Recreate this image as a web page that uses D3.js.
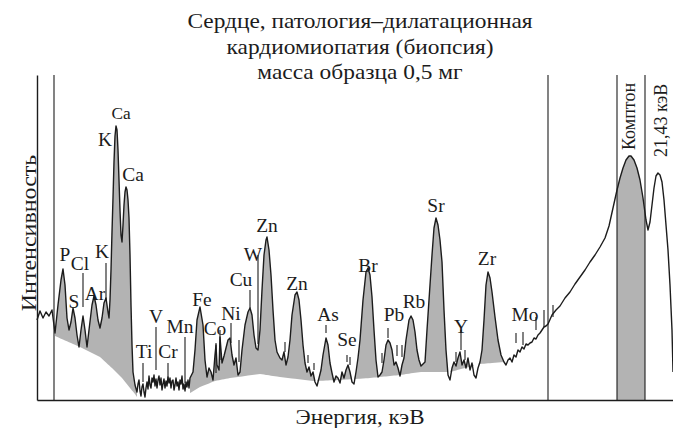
<!DOCTYPE html>
<html><head><meta charset="utf-8">
<script src="https://cdn.jsdelivr.net/npm/d3@7"></script>
<style>html,body{margin:0;padding:0;background:#fff;} svg{display:block;} text{font-family:"Liberation Serif","Times New Roman",serif;}</style>
</head><body><svg id="c" width="673" height="428"></svg>
<script>
// ---------- data ----------
const titleLines = ["Сердце, патология–дилатационная", "кардиомиопатия (биопсия)", "масса образца 0,5 мг"];
const xLabel = "Энергия, кэВ";
const yLabel = "Интенсивность";

// spectrum: [channel, counts]
const spectrum = [
[0,80],[3,89],[6,82],[9,88],[12,84],[15,90],[18,67],[21,95],[24,120],[26,131],[28,115],[30,82],[32,70],[34,78],[36,92],[38,82],[40,65],[42,53],[44,70],[46,84],[48,70],[50,53],[52,70],[55,95],[57,104],[59,95],[61,80],[63,72],[65,82],[67,97],[69,102],
[71,88],[72,82],[73,100],[74,130],[75,168],[76,202],[77,238],[78,264],[79,274],[80,270],[81,250],[82,220],[83,190],[84,165],[85,158],[86,175],[87,195],[88,208],[89,213],[90,210],[91,200],[92,182],[93,145],[94,95],[95,55],[96,28],[98,15],[100,8],
[101,16],[102,20],[103,9],[104,4],[105,13],[106,16],[107,8],[108,3],[109,12],[110,18],[111,11],[112,24],[113,15],[114,12],[115,22],[116,18],[117,25],[118,14],[119,21],[120,12],[121,20],[122,24],[123,15],[124,22],[125,10],[126,16],[127,21],[128,12],[129,19],[130,14],[131,23],[132,17],[133,22],[134,12],[135,19],[136,20],[137,10],[138,15],[139,22],[140,14],[141,18],[142,10],[143,20],[144,16],[145,24],[146,11],[147,16],[148,9],[149,18],[150,13],[151,20],[152,12],[153,22],[154,24],[156,28],[158,50],[160,80],[163,93],[166,75],[168,40],[170,23],[172,32],[174,28],[176,20],[178,45],[179,55],[180,35],[182,30],[183,63],[185,37],[187,44],[189,52],[191,60],[193,62],[195,45],[197,35],[199,42],[201,25],[203,28],[205,50],[208,75],[211,88],[213,92],[215,85],[217,65],[219,52],[221,50],[223,70],[225,110],[227,145],[229,160],[230,163],[232,150],[234,125],[236,90],[238,60],[240,48],[243,42],[245,40],[247,48],[249,35],[251,43],[253,60],[255,85],[258,105],[260,108],[262,100],[264,80],[266,55],[268,37],[270,28],[272,33],[274,24],[276,28],[278,18],[280,14],[282,22],[284,30],[286,45],[289,62],[291,55],[293,37],[295,27],[297,18],[299,24],[301,22],[303,17],[305,28],[307,22],[309,30],[311,35],[313,28],[315,18],[317,16],[319,28],[321,42],[323,60],[326,100],[329,128],[331,132],[333,125],[335,103],[337,70],[339,40],[341,23],[343,25],[345,28],[347,40],[349,55],[351,60],[353,57],[355,50],[357,35],[359,38],[361,32],[363,24],[365,35],[367,42],[369,60],[372,80],[374,84],[376,80],[378,68],[380,50],[382,40],[384,34],[386,36],[388,38],[390,70],[392,100],[395,145],[397,172],[399,182],[401,175],[403,160],[405,138],[407,90],[409,50],[411,25],[413,20],[415,32],[417,38],[419,34],[421,42],[423,48],[425,35],[427,40],[429,32],[431,42],[433,30],[435,37],[437,25],[439,22],[441,32],[443,38],[445,50],[447,80],[449,115],[451,128],[453,122],[455,108],[458,83],[461,60],[464,45],[467,38],[469,35],[471,40],[473,42],[475,38],[477,45],[479,43],[481,50],[483,48],[485,53],[487,51],[489,56],[491,55],[493,57],[495,58],[497,62],[499,61],[501,65],[503,67],[505,70],[507,73],[509,74],[511,76],[515,85],[519,90],[523,94],[528,102],[533,108],[538,116],[543,123],[548,130],[553,138],[558,145],[563,153],[568,162],[572,174],[576,192],[580,210],[583,222],[586,232],[589,240],[592,244],[594,244],[597,240],[600,232],[603,220],[606,202],[609,180],[611,170],[613,178],[615,195],[617,212],[619,224],[621,227],[623,225],[625,218],[627,200],[629,175],[631,150],[633,115],[635,70],[636,28]
];

// lower edges of the shaded peak areas: [channel, counts]
const baselineA = [[18,64],[43,53],[63,43],[76,31],[85,22],[93,12],[98,6],[100,3]];
const baselineB = [[153,7],[163,13],[178,19],[193,22],[223,26],[243,23],[276,19],[303,20],[333,22],[363,25],[383,28],[413,28],[443,36],[468,38]];
const comptonBand = [580, 608];
const refLines = [17, 511, 580, 608];

// element marker ticks: [channel, top counts, bottom counts]
const markers = [
[46,127,93],[69,137,100],[106,37,18],[119,73,30],[131,37,18],[148,63,17],
[179,57,27],[183,70,40],[194,77,57],[202,60,38],[213,110,92],[221,145,56],
[248,58,48],[271,45,37],[277,37,30],[289,75,67],[310,45,38],[313,43,35],
[345,47,37],[351,72,62],[360,55,44],[365,55,43],[419,48,38],[424,70,50],[428,50,40],
[479,67,57],[486,68,55],[499,83,70],[507,90,73],[516,95,83]
];

const elements   = ["Ca","K","Ca","P","Cl","K","S","Ar","Ti","V","Cr","Mn","Fe","Co","Ni","Cu","W","Zn","Zn","As","Se","Br","Pb","Rb","Sr","Y","Zr","Mo"];
const elementCh  = [84,68,96,28,43,65,37,58,107,119,131,143,165,178,194,204,216,230,260,291,310,331,357,377,399,424,450,488];
const elementCnt = [281,254,219,139,130,142,92,100,42,77,42,67,94,65,80,114,139,168,110,79,54,128,79,92,188,67,135,79];

const bandLabels = ["Комптон", "21,43 кэВ"];
const bandLabelCh = [598, 630];
const bandLabelCnt = [250, 243];

// ---------- drawing ----------
const svg = d3.select("#c");
const INK = "#1c1c1c";
const GRAY = "#b3b3b3";

const x = d3.scaleLinear().domain([0, 636]).range([37, 673]);
const y = d3.scaleLinear().domain([0, 325]).range([400, 75]);

const curveAt = d3.scaleLinear().domain(spectrum.map(d => d[0])).range(spectrum.map(d => d[1]));

function fillPoints(lo, hi, baseFn) {
  const pts = [[lo, curveAt(lo)], ...spectrum.filter(d => d[0] > lo && d[0] < hi), [hi, curveAt(hi)]];
  return pts.map(d => { const b = baseFn(d[0]); return {c: d[0], y0: b, y1: Math.max(d[1], b)}; });
}
const area = d3.area().x(d => x(d.c)).y0(d => y(d.y0)).y1(d => y(d.y1));

[baselineA, baselineB].forEach(base => {
  const bs = d3.scaleLinear().domain(base.map(d => d[0])).range(base.map(d => d[1]));
  svg.append("path").datum(fillPoints(base[0][0], base[base.length - 1][0], bs))
    .attr("d", area).attr("fill", GRAY);
});
svg.append("path").datum(fillPoints(comptonBand[0], comptonBand[1], () => 0))
  .attr("d", area).attr("fill", GRAY);

// reference vertical lines
svg.selectAll("line.ref").data(refLines).join("line").attr("class", "ref")
  .attr("x1", d => x(d)).attr("x2", d => x(d)).attr("y1", y(0)).attr("y2", y(325))
  .attr("stroke", INK).attr("stroke-width", 1.1);

// marker ticks
svg.selectAll("line.mk").data(markers).join("line").attr("class", "mk")
  .attr("x1", d => x(d[0])).attr("x2", d => x(d[0])).attr("y1", d => y(d[1])).attr("y2", d => y(d[2]))
  .attr("stroke", INK).attr("stroke-width", 1.1);

// spectrum curve
svg.append("path").datum(spectrum)
  .attr("d", d3.line().x(d => x(d[0])).y(d => y(d[1])))
  .attr("fill", "none").attr("stroke", INK).attr("stroke-width", 1.4).attr("stroke-linejoin", "round");

// axes (no ticks)
const ax = svg.append("g").attr("transform", `translate(0,${y(0)})`)
  .call(d3.axisBottom(x).tickValues([]).tickSizeOuter(0));
const ay = svg.append("g").attr("transform", `translate(${x(0)},0)`)
  .call(d3.axisLeft(y).tickValues([]).tickSizeOuter(0));
[ax, ay].forEach(a => a.select(".domain").attr("stroke", INK).attr("stroke-width", 1.4));

// text helper
function txt(str, px, py, size, opts = {}) {
  const g = svg.append("g")
    .attr("transform", `translate(${px},${py}) rotate(${opts.rotate || 0}) scale(${opts.sx || 1},1)`);
  g.append("text").attr("text-anchor", opts.anchor || "middle")
    .style("font-family", '"Liberation Serif", "Times New Roman", serif')
    .attr("font-size", size).attr("fill", INK).text(str);
}

titleLines.forEach((t, i) => txt(t, 360, 28 + i * 25.5, 20, {sx: 1.17}));
txt(xLabel, 360, 424, 20, {sx: 1.15});
txt(yLabel, 36, 233, 20, {rotate: -90, sx: 1.2});

elements.forEach((e, i) => txt(e, x(elementCh[i]), y(elementCnt[i]), i === 0 ? 16 : 18, {sx: 1.08}));
bandLabels.forEach((t, i) => txt(t, x(bandLabelCh[i]), y(bandLabelCnt[i]), 18, {rotate: -90, anchor: "start"}));
</script></body></html>
